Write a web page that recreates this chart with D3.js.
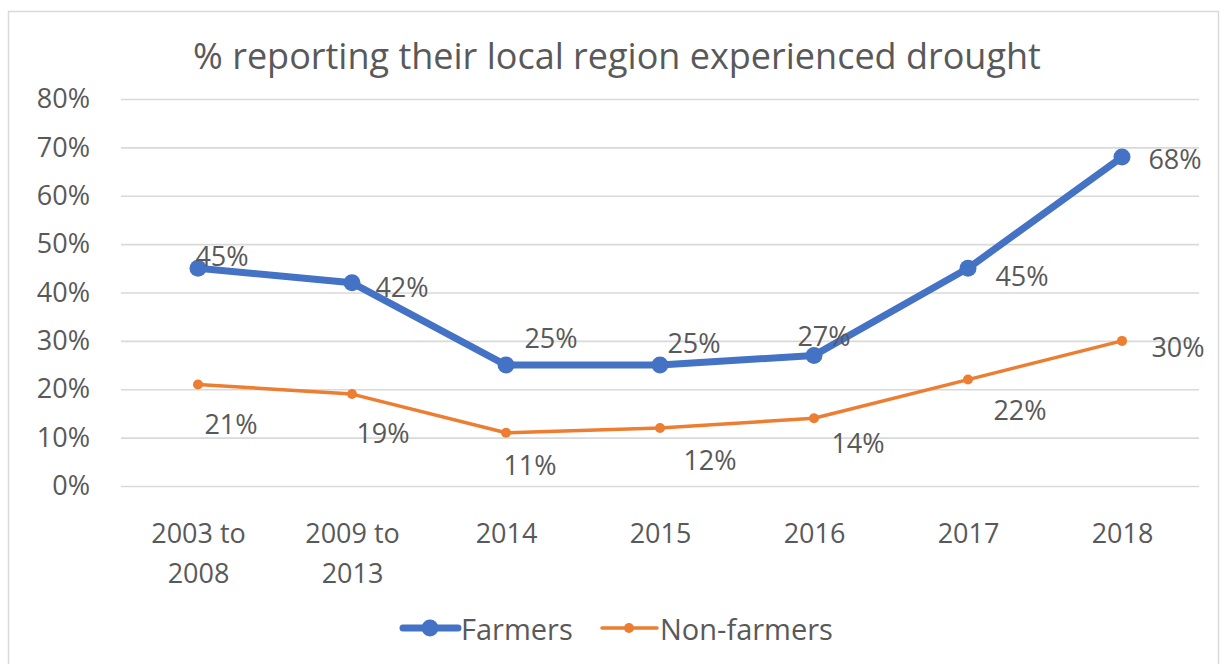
<!DOCTYPE html>
<html>
<head>
<meta charset="utf-8">
<script src="https://cdn.jsdelivr.net/npm/d3@7"></script>
<style>
  html, body { margin: 0; padding: 0; background: #ffffff; }
  svg { display: block; }
  text { font-family: "Open Sans", Lato, "Liberation Sans", sans-serif; fill: #595959; }
</style>
</head>
<body>
<svg id="chart" width="1226" height="664"></svg>
<script>
// ---- data ----
const categories = ["2003 to 2008", "2009 to 2013", "2014", "2015", "2016", "2017", "2018"];
const farmers = [45, 42, 25, 25, 27, 45, 68];
const nonFarmers = [21, 19, 11, 12, 14, 22, 30];
const yTicks = [0, 10, 20, 30, 40, 50, 60, 70, 80];
const seriesNames = ["Farmers", "Non-farmers"];
const titleText = "% reporting their local region experienced drought";

// ---- layout ----
const FONT = "'Open Sans', Lato, sans-serif";
const plot = { left: 121, right: 1199, top: 99, bottom: 486 };
const colors = { farmers: "#4472C4", nonFarmers: "#ED7D31", grid: "#d9d9d9", text: "#595959" };

// per-point data label offsets (dx, dy) from the marker
const farmerLabelOffsets = [[24, -13], [50, 4], [45, -28], [34, -23], [10, -20], [54, 7], [53, 1]];
const nonFarmerLabelOffsets = [[33, 39], [31, 38], [24, 32], [50, 32], [44, 24], [52, 30], [56, 6]];

const svg = d3.select("#chart");

// outer chart frame
svg.append("rect")
  .attr("x", 8.5).attr("y", 11.5)
  .attr("width", 1210).attr("height", 660)
  .attr("fill", "#ffffff")
  .attr("stroke", colors.grid).attr("stroke-width", 1.5);

const x = d3.scalePoint()
  .domain(categories)
  .range([plot.left, plot.right])
  .padding(0.5);

const y = d3.scaleLinear()
  .domain([0, 80])
  .range([plot.bottom, plot.top]);

// title
svg.append("text")
  .attr("x", 617).attr("y", 55)
  .attr("text-anchor", "middle")
  .attr("dominant-baseline", "central")
  .style("font-size", "36px")
  .text(titleText);

// gridlines + y labels via axis
const yAxis = d3.axisLeft(y)
  .tickValues(yTicks)
  .tickSize(-(plot.right - plot.left))
  .tickPadding(31)
  .tickFormat(d => d + "%");

const gy = svg.append("g")
  .attr("transform", `translate(${plot.left},0)`)
  .call(yAxis);
gy.select(".domain").remove();
gy.selectAll(".tick line").attr("stroke", colors.grid).attr("stroke-width", 1.6);
gy.selectAll(".tick text")
  .attr("fill", colors.text)
  .style("font-size", "27px")
  .style("font-family", FONT);

// x labels via axis (wrapped onto two lines where needed)
const xAxis = d3.axisBottom(x).tickSize(0).tickPadding(0);
const gx = svg.append("g")
  .attr("transform", `translate(0,${plot.bottom})`)
  .call(xAxis);
gx.select(".domain").remove();
gx.selectAll(".tick text").each(function (d) {
  const t = d3.select(this);
  t.text(null)
    .attr("y", null)
    .attr("dy", null)
    .attr("dominant-baseline", "central")
    .attr("fill", colors.text)
    .style("font-size", "27px")
    .style("font-family", FONT);
  const m = d.match(/^(\S+ to)\s+(\S+)$/);
  const lines = m ? [m[1], m[2]] : [d];
  lines.forEach((ln, i) => {
    t.append("tspan")
      .attr("x", 0)
      .attr("y", 46 + i * 40)
      .text(ln);
  });
});

// series
const series = [
  { name: seriesNames[0], values: farmers, color: colors.farmers, width: 7, r: 8.5, offsets: farmerLabelOffsets },
  { name: seriesNames[1], values: nonFarmers, color: colors.nonFarmers, width: 3.5, r: 5, offsets: nonFarmerLabelOffsets }
];

const line = d3.line()
  .x((d, i) => x(categories[i]))
  .y(d => y(d));

series.forEach(s => {
  const g = svg.append("g");
  g.append("path")
    .datum(s.values)
    .attr("d", line)
    .attr("fill", "none")
    .attr("stroke", s.color)
    .attr("stroke-width", s.width)
    .attr("stroke-linejoin", "round")
    .attr("stroke-linecap", "round");
  g.selectAll("circle")
    .data(s.values)
    .join("circle")
    .attr("cx", (d, i) => x(categories[i]))
    .attr("cy", d => y(d))
    .attr("r", s.r)
    .attr("fill", s.color);
  g.selectAll("text.lbl")
    .data(s.values)
    .join("text")
    .attr("class", "lbl")
    .attr("x", (d, i) => x(categories[i]) + s.offsets[i][0])
    .attr("y", (d, i) => y(d) + s.offsets[i][1])
    .attr("text-anchor", "middle")
    .attr("dominant-baseline", "central")
    .style("font-size", "27px")
    .text(d => d + "%");
});

// legend
const legendItems = [
  { name: seriesNames[0], color: colors.farmers, width: 7, r: 8.5, x0: 403 },
  { name: seriesNames[1], color: colors.nonFarmers, width: 3.5, r: 5, x0: 602 }
];
const ly = 628;
legendItems.forEach(it => {
  const g = svg.append("g");
  g.append("line")
    .attr("x1", it.x0).attr("x2", it.x0 + 55)
    .attr("y1", ly).attr("y2", ly)
    .attr("stroke", it.color).attr("stroke-width", it.width)
    .attr("stroke-linecap", "round");
  g.append("circle")
    .attr("cx", it.x0 + 27).attr("cy", ly).attr("r", it.r)
    .attr("fill", it.color);
  g.append("text")
    .attr("x", it.x0 + 58).attr("y", ly)
    .attr("dominant-baseline", "central")
    .style("font-size", "29px")
    .text(it.name);
});
</script>
</body>
</html>
